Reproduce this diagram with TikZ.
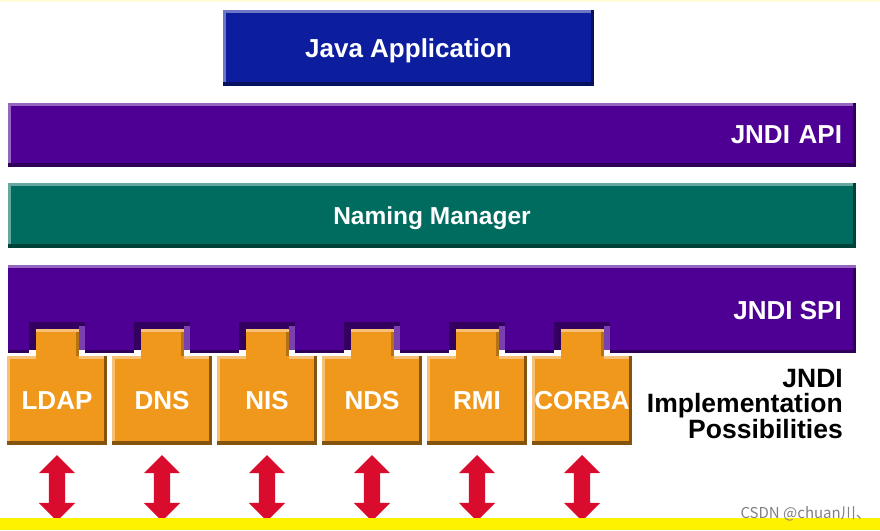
\documentclass[tikz,border=0pt]{standalone}
\usepackage{fontspec}
\setmainfont{Liberation Sans}
\newfontfamily\cjkfont{Noto Sans CJK SC}
\usetikzlibrary{shapes.arrows}

\definecolor{javablue}{RGB}{12,30,158}
\definecolor{apipurple}{RGB}{78,0,148}
\definecolor{namingteal}{RGB}{0,108,96}
\definecolor{implorange}{RGB}{240,152,28}
\definecolor{arrowred}{RGB}{218,12,46}

\begin{document}
\begin{tikzpicture}[x=1pt,y=-1pt,every node/.style={font=\fontsize{26}{26}\selectfont\bfseries,inner sep=0},
	bevel/.style 2 args={path picture={
		\fill[#1] (path picture bounding box.north west) rectangle ([yshift=-3pt]path picture bounding box.north east);
		\fill[#1] (path picture bounding box.north west) rectangle ([xshift=3pt]path picture bounding box.south west);
		\fill[#2] (path picture bounding box.south west) rectangle ([yshift=4pt]path picture bounding box.south east);
		\fill[#2] (path picture bounding box.north east) rectangle ([xshift=-3pt]path picture bounding box.south east);}},
	layer/.style={rectangle,text=white,text depth=0,minimum width=848,minimum height=64,inner xsep=14},
	implbox/.style={rectangle,text=white,fill=implorange,minimum width=100,minimum height=89,
		bevel={implorange!60!white}{implorange!55!black}},
	dblarrow/.style={double arrow,rotate=90,fill=arrowred,minimum height=66,minimum width=36,
		inner xsep=0,inner ysep=8,double arrow head extend=10}]
	\useasboundingbox (0,0) rectangle (880,530);
	\fill[white] (0,0) rectangle (880,530);
	\fill[yellow!15] (0,0) rectangle (880,2);

	%top layers
	\node[rectangle,text=white,text depth=0,fill=javablue,minimum width=371,minimum height=76,
		bevel={javablue!60!white}{javablue!60!black}] (java) at (408.5,48) {Java Application};
	\node[layer,fill=apipurple,text width=820,align=right,
		bevel={apipurple!60!white}{apipurple!60!black}] (api) at (432,135) {JNDI API};
	\node[layer,fill=namingteal,minimum height=65,font=\fontsize{24.5}{25}\selectfont\bfseries,
		bevel={namingteal!60!white}{namingteal!60!black}] (naming) at (432,215.5) {Naming Manager};

	%spi layer
	\fill[apipurple] (8,265) rectangle (856,353);
	\fill[apipurple!60!white] (8,265) rectangle (856,268);
	\fill[apipurple!60!black] (853,268) rectangle (856,353);
	\fill[apipurple!60!black] (8,350) rectangle (856,353);
	\node[anchor=east,text=white] (spi) at (842,311) {JNDI SPI};

	%implementation boxes
	\foreach \cx/\id/\txt in {57/ldap/LDAP,162/dns/DNS,267/nis/NIS,372/nds/NDS,477/rmi/RMI,582/corba/CORBA} {
		\fill[white] (\cx-28,350) rectangle (\cx+28,356);
		\fill[apipurple!65!black] (\cx-28,322) rectangle (\cx+28,350);
		\fill[apipurple!75!white] (\cx+22,326) rectangle (\cx+28,350);
		\node[implbox] (\id) at (\cx,400.5) {\txt};
		\fill[implorange] (\cx-21,329) rectangle (\cx+22,359);
		\fill[implorange!60!white] (\cx-21,329) rectangle (\cx+22,332);
		\fill[implorange!75!black] (\cx+19,332) rectangle (\cx+22,356);
		\node[dblarrow] (\id-arrow) at (\cx,488) {};
	}
	\node[anchor=east,align=right,font=\fontsize{26.5}{24.5}\selectfont\bfseries] (impl) at (843,404)
		{JNDI\\Implementation\\Possibilities};

	%bottom
	\fill[yellow] (0,518) rectangle (880,530);
	\node[anchor=south east,text=gray,font=\cjkfont\fontsize{15}{15}\selectfont] (mark) at (871,521) {CSDN @chuan川、};
\end{tikzpicture}
\end{document}
